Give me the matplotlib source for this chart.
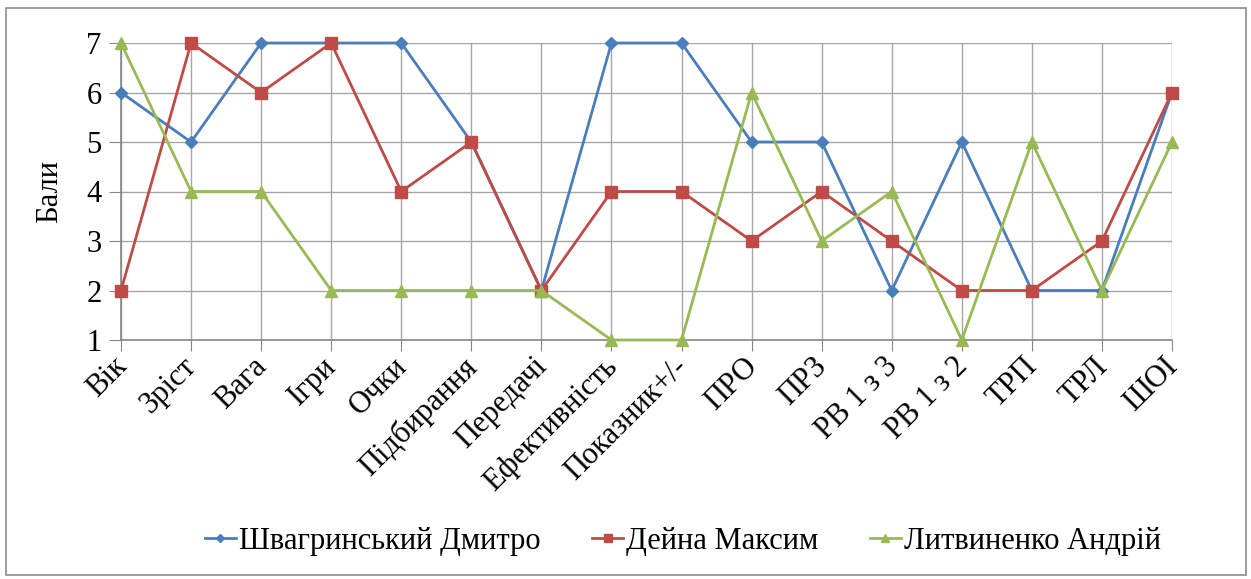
import matplotlib
matplotlib.use("Agg")
import matplotlib.pyplot as plt
from matplotlib.patches import Rectangle
from matplotlib.transforms import ScaledTranslation

categories = ["Вік", "Зріст", "Вага", "Ігри", "Очки", "Підбирання", "Передачі",
              "Ефективність", "Показник+/-", "ПРО", "ПРЗ", "РВ 1 з 3", "РВ 1 з 2",
              "ТРП", "ТРЛ", "ШОІ"]
shvahrynskyi = [6, 5, 7, 7, 7, 5, 2, 7, 7, 5, 5, 2, 5, 2, 2, 6]
deina = [2, 7, 6, 7, 4, 5, 2, 4, 4, 3, 4, 3, 2, 2, 3, 6]
lytvynenko = [7, 4, 4, 2, 2, 2, 2, 1, 1, 6, 3, 4, 1, 5, 2, 5]
series_names = ["Швагринський Дмитро", "Дейна Максим", "Литвиненко Андрій"]
y_ticks = [1, 2, 3, 4, 5, 6, 7]

plt.rcParams["font.family"] = ["Liberation Serif", "DejaVu Serif"]

fig = plt.figure(figsize=(12.51, 5.79), dpi=100)
W, H = 1251, 579
# plot area in pixels: x from 121 to 1172, y from 43 (top) to 340 (bottom)
ax = fig.add_axes([121 / W, 1 - 340 / H, (1172 - 121) / W, (340 - 43) / H])

# outer chart frame
fig.patches.append(Rectangle((6 / W, 4 / H), 1240 / W, (575 - 8) / H,
                             transform=fig.transFigure, fill=False,
                             edgecolor="#8c8c8c", linewidth=1.2))

x = list(range(len(categories)))
styles = [
    (shvahrynskyi, "#4A7EBB", "D", 6.5),
    (deina, "#BE4B48", "s", 8.5),
    (lytvynenko, "#98B954", "^", 9),
]
for (vals, color, marker, ms), name in zip(styles, series_names):
    ax.plot(x, vals, color=color, linewidth=2.0, marker=marker, markersize=ms,
            markerfacecolor=color, markeredgecolor=color, label=name,
            clip_on=False, zorder=3)

ax.set_xlim(0, len(categories) - 1)
ax.set_ylim(1, 7)
ax.set_yticks(y_ticks)
ax.set_xticks(x)
ax.set_xticklabels(categories, rotation=45, ha="right", rotation_mode="anchor",
                   fontsize=22)
ax.tick_params(axis="y", labelsize=22, length=9, color="#868686", pad=5)
ax.tick_params(axis="x", length=8, color="#868686", pad=5)

# nudge the slanted category labels up and to the left
shift = ScaledTranslation(-9 / 100, 6 / 100, fig.dpi_scale_trans)
for lbl in ax.get_xticklabels():
    lbl.set_transform(lbl.get_transform() + shift)

ax.grid(True, color="#a6a6a6", linewidth=1.0)
ax.set_axisbelow(True)
for side in ["top", "right"]:
    ax.spines[side].set_visible(False)
ax.spines["left"].set_color("#868686")
ax.spines["left"].set_linewidth(1.2)
ax.spines["bottom"].set_color("#868686")
ax.spines["bottom"].set_linewidth(1.2)
ax.set_ylabel("Бали", fontsize=22, labelpad=16)

leg = fig.legend(loc="center", bbox_to_anchor=(683 / W, 1 - 541 / H), ncol=3,
                 frameon=False, fontsize=22, handlelength=1.0, handletextpad=0.1,
                 columnspacing=1.7, markerscale=0.7)

fig.savefig("out.png", dpi=100)
